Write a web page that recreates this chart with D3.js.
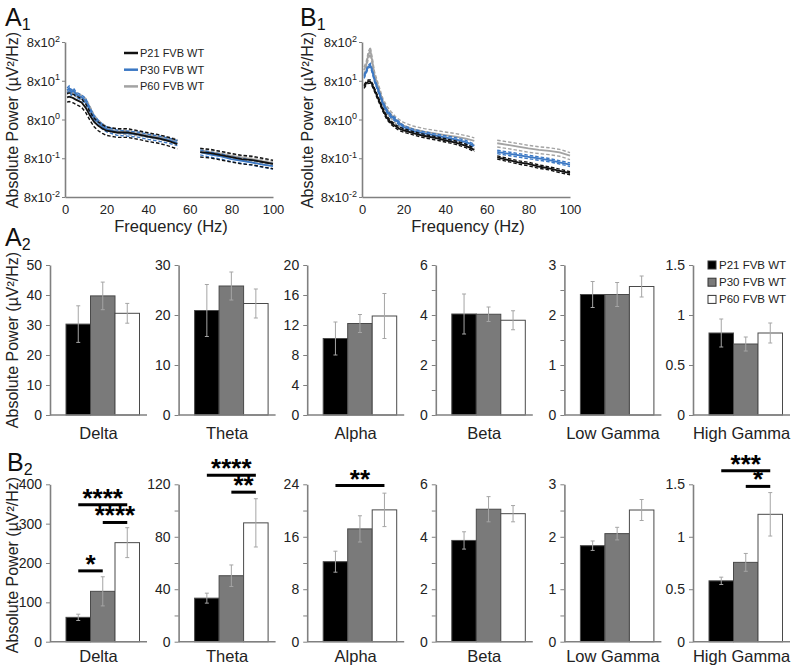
<!DOCTYPE html>
<html><head><meta charset="utf-8">
<script src="https://cdn.jsdelivr.net/npm/d3@7"></script>
<style>body{margin:0;background:#fff}svg{font-family:"Liberation Sans",Arial,sans-serif}</style>
</head><body><svg id="c" width="800" height="670"></svg>
<script>
// ---------- DATA ----------
const groups = ["P21 FVB WT", "P30 FVB WT", "P60 FVB WT"];
const freq = [1,2,3,4,5,6,8,10,12,14,16,18,20,25,30,35,40,45,50,54,65,70,75,80,85,90,95,100];

// A1: power spectra (µV²/Hz), mean and SEM
const a1P21 = [29.9,31,30,28.5,26.5,24.9,22,16,10.1,6.9,5.5,4.7,4.1,3.7,3.7,3.3,2.9,2.6,2.2,1.86,1.15,1.08,0.96,0.85,0.76,0.72,0.64,0.57];
const a1P21Sem = [7.5,7.8,7.5,7.1,6.6,6.2,5.5,4,2.5,1.7,1.4,1.2,1.0,0.93,0.93,0.83,0.73,0.65,0.55,0.47,0.29,0.27,0.24,0.21,0.19,0.18,0.16,0.14];
const a1P30 = [45,51,40,45,38,34,30,24,14.1,8.9,6.7,5.3,4.5,3.7,3.5,3.3,2.9,2.6,2.3,2.0,1.15,1.0,0.9,0.76,0.69,0.62,0.55,0.5];
const a1P30Sem = [6.8,7.7,6,6.8,5.7,5.1,4.5,3.6,2.1,1.3,1.0,0.8,0.68,0.56,0.53,0.5,0.44,0.39,0.35,0.3,0.17,0.15,0.14,0.11,0.1,0.09,0.08,0.08];
const a1P60 = [40,45,38,42,36,34,30,25,15.6,9.3,6.9,5.6,4.7,4.0,3.7,3.5,3.1,2.8,2.5,2.2,1.3,1.15,1.05,0.93,0.84,0.76,0.67,0.6];
const a1P60Sem = [4.8,5.4,4.6,5,4.3,4.1,3.6,3,1.9,1.1,0.83,0.67,0.56,0.48,0.44,0.42,0.37,0.34,0.3,0.26,0.16,0.14,0.13,0.11,0.1,0.09,0.08,0.07];

// B1: power spectra (µV²/Hz), mean and SEM
const b1P21 = [56.8,69,76,76,62.6,46.7,25.9,14.4,8.8,6.6,5.4,4.6,4.2,3.5,3.0,2.67,2.33,2.03,1.67,1.32,0.84,0.73,0.63,0.57,0.49,0.44,0.38,0.33];
const b1P21Sem = [5.7,6.9,7.6,7.6,6.3,4.7,2.6,1.4,0.9,0.66,0.54,0.46,0.42,0.35,0.3,0.27,0.23,0.2,0.17,0.13,0.08,0.07,0.06,0.06,0.05,0.04,0.04,0.03];
const b1P30 = [102,137,184,203,137,84,42,21.3,13.1,9.7,8.0,6.3,5.1,4.03,3.5,3.1,2.77,2.46,2.1,1.67,1.17,1.06,0.96,0.87,0.79,0.72,0.63,0.55];
const b1P30Sem = [10,14,18,20,14,8.4,4.2,2.1,1.3,1.0,0.8,0.63,0.51,0.4,0.35,0.31,0.28,0.25,0.21,0.17,0.12,0.11,0.1,0.09,0.08,0.07,0.06,0.06];
const b1P60 = [151,203,366,490,247,113,51.5,23.5,14.4,10.7,8.0,6.6,5.6,4.45,3.87,3.5,3.18,2.88,2.56,2.24,1.95,1.77,1.60,1.43,1.32,1.24,1.13,0.93];
const b1P60Sem = [30,41,73,98,49,23,10,4.7,2.9,2.1,1.6,1.3,1.1,0.89,0.77,0.7,0.64,0.58,0.51,0.45,0.39,0.35,0.32,0.29,0.26,0.25,0.23,0.19];

const logTicks = [0.08, 0.8, 8, 80, 800];
const freqTicks = [0, 20, 40, 60, 80, 100];

// A2 / B2: band power (µV²/Hz)
const bands = ["Delta", "Theta", "Alpha", "Beta", "Low Gamma", "High Gamma"];
const a2P21 = [30.3, 20.9, 10.2, 4.04, 2.41, 0.82];
const a2P21Err = [6.1, 5.2, 2.2, 0.8, 0.26, 0.14];
const a2P30 = [39.7, 25.8, 12.2, 4.03, 2.41, 0.71];
const a2P30Err = [4.6, 2.8, 1.2, 0.29, 0.24, 0.07];
const a2P60 = [33.9, 22.3, 13.2, 3.79, 2.57, 0.82];
const a2P60Err = [3.3, 2.9, 3.0, 0.38, 0.21, 0.10];
const a2Max = [50, 30, 20, 6, 3, 1.5];
const a2LabelStep = [10, 10, 4, 2, 1, 0.5];
const a2TickStep = [10, 10, 4, 1, 0.5, 0.5];

const b2P21 = [61.9, 33.2, 12.2, 3.86, 1.83, 0.58];
const b2P21Err = [8, 3.8, 1.6, 0.33, 0.09, 0.035];
const b2P30 = [128, 50.3, 17.2, 5.05, 2.06, 0.756];
const b2P30Err = [37, 8.2, 2.0, 0.48, 0.12, 0.085];
const b2P60 = [251.7, 90.6, 20.1, 4.88, 2.51, 1.214];
const b2P60Err = [38, 18.4, 2.55, 0.31, 0.2, 0.207];
const b2Max = [400, 120, 24, 6, 3, 1.5];
const b2LabelStep = [100, 40, 8, 2, 1, 0.5];
const b2TickStep = [100, 20, 4, 1, 0.5, 0.5];

// B2 significance brackets
const sigBand = [0, 0, 0, 1, 1, 2, 5, 5];
const sigFrom = [0, 1, 0, 0, 1, 0, 0, 1];
const sigTo   = [2, 2, 1, 2, 2, 2, 2, 2];
const sigY    = [348, 303, 180, 126.9, 114, 23.8, 1.63, 1.48];
const sigText = ["****", "****", "*", "****", "**", "**", "***", "*"];

// ---------- STYLE ----------
const lineColors = ["#111111", "#3b78c4", "#a3a3a3"];
const barFills = ["#000000", "#7a7a7a", "#ffffff"];
const axisColor = "#808080";
const textColor = "#222";
const ylabText = "Absolute Power (µV²/Hz)";

const svg = d3.select("#c");

function panelLetter(x, y, L, n) {
  const t = svg.append("text").attr("x", x).attr("y", y).attr("font-size", 25).attr("fill", "#111").text(L);
  t.append("tspan").attr("font-size", 16).attr("dy", 4).text(n);
}

function yLabel(cx, cy, size) {
  svg.append("text").attr("transform", `translate(${cx},${cy}) rotate(-90)`)
    .attr("text-anchor", "middle").attr("dominant-baseline", "middle")
    .attr("font-size", size).attr("fill", textColor).text(ylabText);
}

function styleAxis(g) {
  g.select(".domain").attr("stroke", axisColor).attr("stroke-width", 1.6);
  g.selectAll(".tick line").attr("stroke", axisColor).attr("stroke-width", 1);
  g.selectAll(".tick text").attr("fill", textColor).attr("font-family", "Liberation Sans, Arial, sans-serif");
}

// ---------- LINE PLOTS ----------
function spectrum(x0, x1, yTop, yBot, series, sems, labX) {
  const x = d3.scaleLinear().domain([0, 100]).range([x0, x1]);
  const y = d3.scaleLog().domain([0.08, 800]).range([yBot, yTop]);
  const line = d3.line().x(d => x(d[0])).y(d => y(d[1]));
  [2, 1, 0].forEach(gi => {
    const m = series[gi], s = sems[gi];
    const idxAll = freq.map((f, i) => i);
    const segs = [idxAll.filter(i => freq[i] < 60), idxAll.filter(i => freq[i] > 60)];
    segs.forEach(idx => {
      const mean = idx.map(i => [freq[i], m[i]]);
      const up = idx.map(i => [freq[i], m[i] + s[i]]);
      const lo = idx.map(i => [freq[i], Math.max(0.081, m[i] - s[i])]);
      [up, lo].forEach(pts => svg.append("path").attr("d", line(pts)).attr("fill", "none")
        .attr("stroke", lineColors[gi]).attr("stroke-width", 1.4).attr("stroke-dasharray", "3.5,2"));
      svg.append("path").attr("d", line(mean)).attr("fill", "none")
        .attr("stroke", lineColors[gi]).attr("stroke-width", 1.8);
    });
  });
  const gy = svg.append("g").attr("transform", `translate(${x0},0)`)
    .call(d3.axisLeft(y).tickValues(logTicks).tickSize(3).tickSizeOuter(0).tickFormat(""));
  styleAxis(gy);
  gy.selectAll(".tick").each(function(v) {
    const t = d3.select(this).append("text").attr("x", -5).attr("dy", "0.35em")
      .attr("text-anchor", "end").attr("font-size", 13).attr("fill", textColor);
    t.append("tspan").text("8x10");
    t.append("tspan").attr("font-size", 9).attr("dy", "-0.6em").text(Math.round(Math.log10(v / 8)));
  });
  const gx = svg.append("g").attr("transform", `translate(0,${yBot})`)
    .call(d3.axisBottom(x).tickValues(freqTicks).tickSize(0).tickSizeOuter(0).tickPadding(8));
  styleAxis(gx);
  gx.selectAll(".tick text").attr("font-size", 13);
  svg.append("text").attr("x", (x0 + x1) / 2 + 2).attr("y", 232).attr("text-anchor", "middle")
    .attr("font-size", 16.5).attr("fill", textColor).text("Frequency (Hz)");
  yLabel(labX, 120, 16);
}

spectrum(65, 273, 42, 197, [a1P21, a1P30, a1P60], [a1P21Sem, a1P30Sem, a1P60Sem], 14);
spectrum(362, 570, 42, 197, [b1P21, b1P30, b1P60], [b1P21Sem, b1P30Sem, b1P60Sem], 309);
panelLetter(5, 26, "A", "1");
panelLetter(300, 26, "B", "1");

// A1 legend
groups.forEach((g, i) => {
  const yy = 53 + i * 16.7;
  svg.append("line").attr("x1", 124).attr("x2", 138).attr("y1", yy).attr("y2", yy)
    .attr("stroke", lineColors[i]).attr("stroke-width", 2.5);
  svg.append("text").attr("x", 140).attr("y", yy).attr("dy", "0.35em").attr("font-size", 11)
    .attr("fill", textColor).text(g);
});

// ---------- BAR PLOTS ----------
const panelX = d3.scaleBand().domain(bands).range([50, 50 + 6 * 128.6]);
const barX = d3.scaleBand().domain(groups).range([16, 89.5]).padding(0);
const axisLen = 97;

function barRow(vals, errs, maxes, labelSteps, tickSteps, yBot, yTop, labBase) {
  bands.forEach((b, bi) => {
    const ox = panelX(b);
    const y = d3.scaleLinear().domain([0, maxes[bi]]).range([yBot, yTop]);
    const g = svg.append("g").attr("transform", `translate(${ox},0)`);
    groups.forEach((gr, gi) => {
      const v = vals[gi][bi];
      g.append("rect").attr("x", barX(gr)).attr("y", y(v)).attr("width", barX.bandwidth())
        .attr("height", yBot - y(v)).attr("fill", barFills[gi]).attr("stroke", "#4a4a4a").attr("stroke-width", 1);
    });
    groups.forEach((gr, gi) => {
      const v = vals[gi][bi], e = errs[gi][bi];
      const cx = barX(gr) + barX.bandwidth() / 2;
      const eg = g.append("g").attr("stroke", "#a5a5a5").attr("stroke-width", 1);
      eg.append("line").attr("x1", cx).attr("x2", cx).attr("y1", y(v - e)).attr("y2", y(v + e));
      eg.append("line").attr("x1", cx - 2).attr("x2", cx + 2).attr("y1", y(v - e)).attr("y2", y(v - e));
      eg.append("line").attr("x1", cx - 2).attr("x2", cx + 2).attr("y1", y(v + e)).attr("y2", y(v + e));
    });
    const tv = d3.range(0, maxes[bi] + 1e-9, tickSteps[bi]);
    const ga = g.append("g").call(d3.axisLeft(y).tickValues(tv).tickSize(4).tickSizeOuter(0).tickPadding(4)
      .tickFormat(d => {
        const r = d / labelSteps[bi];
        return Math.abs(r - Math.round(r)) < 1e-6 ? String(+d.toFixed(2)) : "";
      }));
    styleAxis(ga);
    ga.selectAll(".tick text").attr("font-size", 14);
    g.append("line").attr("x1", 0).attr("x2", axisLen).attr("y1", yBot).attr("y2", yBot)
      .attr("stroke", axisColor).attr("stroke-width", 1.6);
    g.append("text").attr("x", axisLen / 2).attr("y", labBase).attr("text-anchor", "middle")
      .attr("font-size", 16.5).attr("fill", textColor).text(b);
  });
}

barRow([a2P21, a2P30, a2P60], [a2P21Err, a2P30Err, a2P60Err], a2Max, a2LabelStep, a2TickStep, 415, 265, 439);
barRow([b2P21, b2P30, b2P60], [b2P21Err, b2P30Err, b2P60Err], b2Max, b2LabelStep, b2TickStep, 641.7, 484.3, 662);
yLabel(14, 340, 16);
yLabel(14, 565, 16);
panelLetter(5, 246, "A", "2");
panelLetter(7, 471, "B", "2");

// significance
sigBand.forEach((bi, k) => {
  const ox = panelX(bands[bi]);
  const y = d3.scaleLinear().domain([0, b2Max[bi]]).range([641.7, 484.3]);
  const xa = ox + barX(groups[sigFrom[k]]) + barX.bandwidth() / 2;
  const xb = ox + barX(groups[sigTo[k]]) + barX.bandwidth() / 2;
  const yy = y(sigY[k]);
  svg.append("line").attr("x1", xa).attr("x2", xb).attr("y1", yy).attr("y2", yy)
    .attr("stroke", "#000").attr("stroke-width", 3);
  svg.append("text").attr("x", (xa + xb) / 2).attr("y", yy + 2).attr("text-anchor", "middle")
    .attr("font-size", 26).attr("font-weight", "bold").attr("fill", "#000").text(sigText[k]);
});

// A2 legend
groups.forEach((g, i) => {
  const yy = 265 + i * 17.2;
  svg.append("rect").attr("x", 708).attr("y", yy - 4).attr("width", 8).attr("height", 8)
    .attr("fill", barFills[i]).attr("stroke", "#333").attr("stroke-width", 1);
  svg.append("text").attr("x", 719).attr("y", yy).attr("dy", "0.35em").attr("font-size", 11.5)
    .attr("fill", textColor).text(g);
});
</script></body></html>
